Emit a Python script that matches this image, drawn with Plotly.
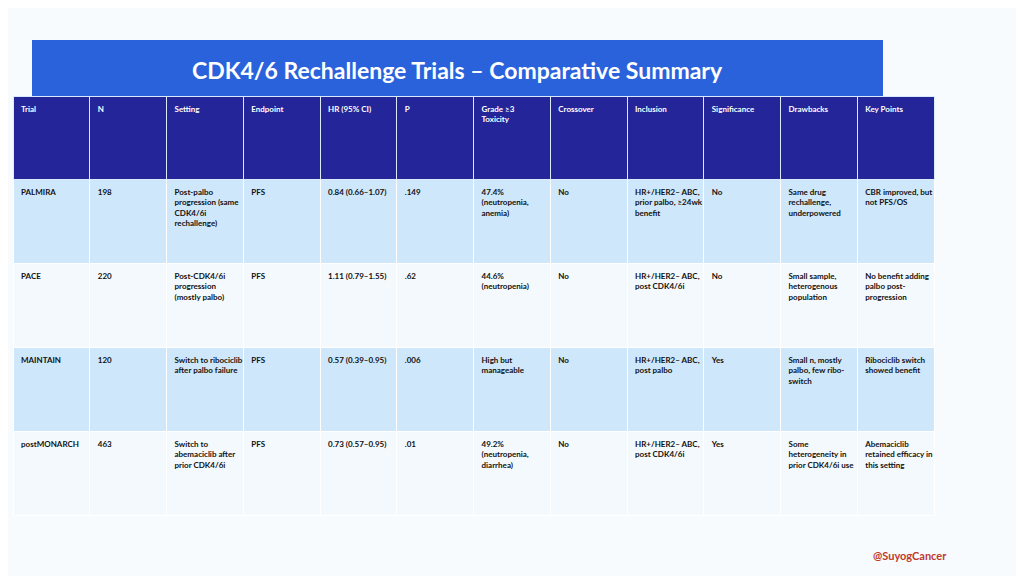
import plotly.graph_objects as go

headers = ["Trial", "N", "Setting", "Endpoint", "HR (95% CI)", "P", "Grade ≥3<br>Toxicity",
           "Crossover", "Inclusion", "Significance", "Drawbacks", "Key Points"]

trials = ["PALMIRA", "PACE", "MAINTAIN", "postMONARCH"]
n = ["198", "220", "120", "463"]
setting = ["Post-palbo<br>progression (same<br>CDK4/6i<br>rechallenge)",
           "Post-CDK4/6i<br>progression<br>(mostly palbo)",
           "Switch to ribociclib<br>after palbo failure",
           "Switch to<br>abemaciclib after<br>prior CDK4/6i"]
endpoint = ["PFS", "PFS", "PFS", "PFS"]
hr = ["0.84 (0.66–1.07)", "1.11 (0.79–1.55)", "0.57 (0.39–0.95)", "0.73 (0.57–0.95)"]
p = [".149", ".62", ".006", ".01"]
toxicity = ["47.4%<br>(neutropenia,<br>anemia)", "44.6%<br>(neutropenia)",
            "High but<br>manageable", "49.2%<br>(neutropenia,<br>diarrhea)"]
crossover = ["No", "No", "No", "No"]
inclusion = ["HR+/HER2– ABC,<br>prior palbo, ≥24wk<br>benefit", "HR+/HER2– ABC,<br>post CDK4/6i",
             "HR+/HER2– ABC,<br>post palbo", "HR+/HER2– ABC,<br>post CDK4/6i"]
significance = ["No", "No", "Yes", "Yes"]
drawbacks = ["Same drug<br>rechallenge,<br>underpowered", "Small sample,<br>heterogenous<br>population",
             "Small n, mostly<br>palbo, few ribo-<br>switch", "Some<br>heterogeneity in<br>prior CDK4/6i use"]
key_points = ["CBR improved, but<br>not PFS/OS", "No benefit adding<br>palbo post-<br>progression",
              "Ribociclib switch<br>showed benefit", "Abemaciclib<br>retained efficacy in<br>this setting"]

columns = [trials, n, setting, endpoint, hr, p, toxicity, crossover, inclusion,
           significance, drawbacks, key_points]
row_colors = ["#cfe7fb", "#f4f9fd", "#cfe7fb", "#f4f9fd"]

W, H, OFF = 1024, 576, 8  # page body margin offset


def px(x):
    return (x - OFF) / W


def py(y):
    return 1 - (y - OFF) / H


fig = go.Figure(go.Table(
    domain=dict(x=[px(13), px(934)], y=[0.0, py(96)]),
    columnwidth=[1]*12,
    header=dict(values=[f"<b>{h}</b>" for h in headers],
                fill_color="#25259a", line=dict(color="#dce8fb", width=1),
                font=dict(family="Lato", size=8, color="white"),
                align="left", height=83),
    cells=dict(values=[[f"<b>{v}</b>" for v in col] for col in columns],
               fill_color=[row_colors]*12, line=dict(color="white", width=1),
               font=dict(family="Lato", size=8, color="#111111"),
               align="left", height=84),
))

fig.add_shape(type="rect", xref="paper", yref="paper",
              x0=px(32), x1=px(883), y0=py(96), y1=py(40),
              fillcolor="#2a62dc", line_width=0, layer="below")
fig.add_annotation(text="<b>CDK4/6 Rechallenge Trials – Comparative Summary</b>",
                   xref="paper", yref="paper", x=px(457), y=py(70),
                   xanchor="center", yanchor="middle",
                   showarrow=False, font=dict(family="Lato", size=23, color="white"))
fig.add_annotation(text="<b>@SuyogCancer</b>", xref="paper", yref="paper",
                   x=px(910), y=py(555), xanchor="center", yanchor="middle", showarrow=False,
                   font=dict(family="Lato", size=11, color="#c0392b"))

fig.update_layout(width=W, height=H, margin=dict(l=0, r=0, t=0, b=0),
                  paper_bgcolor="#f7fbfe", plot_bgcolor="#f7fbfe")
fig.write_html("out.html")
